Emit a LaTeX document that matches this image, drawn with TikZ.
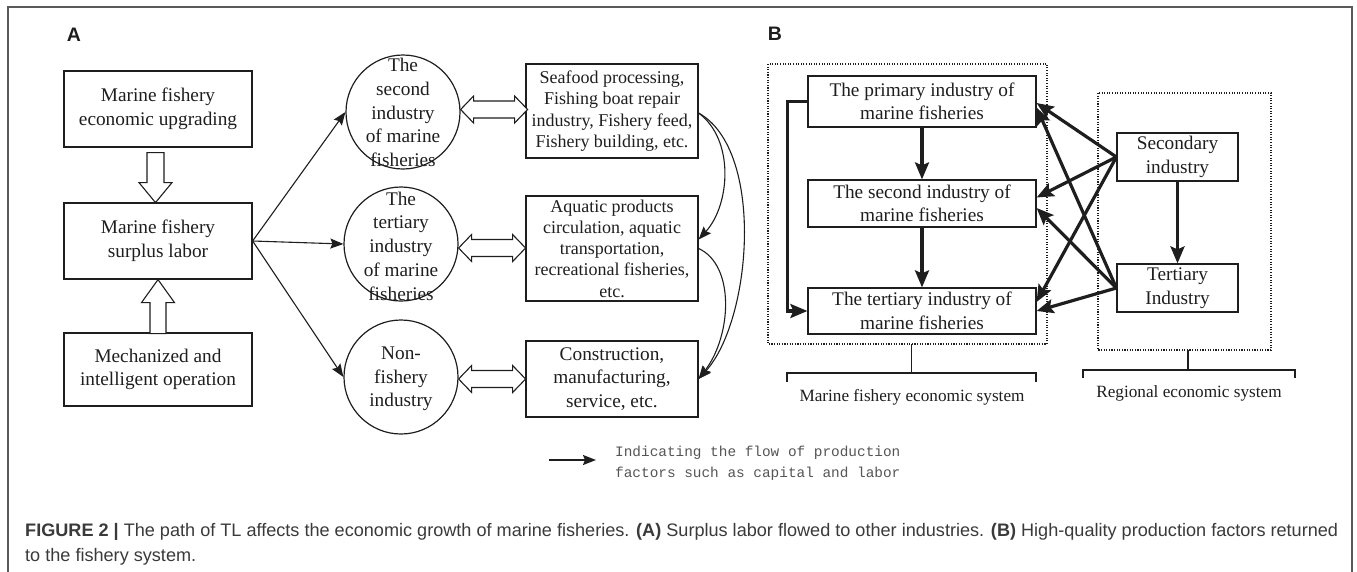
\documentclass[tikz,border=0pt]{standalone}
\usepackage{fontspec}
\setmainfont{Liberation Serif}
\setmonofont{Liberation Mono}
\newfontfamily\capfont{Liberation Sans}
\usetikzlibrary{arrows.meta,calc}
\definecolor{ink}{HTML}{1E1E1E}
\definecolor{framec}{HTML}{5A5A5A}
\definecolor{capc}{HTML}{3A3A3A}
\definecolor{legc}{HTML}{555555}
\begin{document}
\begin{tikzpicture}[x=1pt,y=-1pt,
  box/.style={draw=ink, line width=1.2pt, text=ink, align=center, inner sep=0pt,
    font=\fontsize{19.3}{23.5}\selectfont},
  sbox/.style={box, font=\fontsize{18}{21.3}\selectfont},
  circ/.style={circle, draw=ink, line width=1.2pt, minimum size=114pt, inner sep=0pt},
  ctext/.style={align=center, text=ink, inner sep=0pt, font=\fontsize{19.3}{23.7}\selectfont},
  thinarr/.style={draw=ink, line width=1.1pt, -{Stealth[length=13pt,width=10pt,inset=2pt]}},
  thickarr/.style={draw=ink, line width=3.2pt, -{Stealth[length=17pt,width=14pt,inset=3pt]}},
  hollow/.style={draw=ink, line width=1.1pt, fill=white, line join=miter},
  dotbox/.style={draw=ink, line width=1.1pt, dash pattern=on 1.1pt off 1.5pt},
  brack/.style={draw=ink, line width=1.3pt},
  panel/.style={font=\capfont\bfseries\fontsize{19.5}{20}\selectfont, text=ink, inner sep=0pt},
  blabel/.style={font=\fontsize{17.2}{20}\selectfont, text=ink, inner sep=0pt},
  captxt/.style={anchor=base west, inner sep=0pt, text=capc, font=\capfont\fontsize{18.1}{20}\selectfont}
]
\useasboundingbox (0,0) rectangle (1357,571);
% outer frame
\draw[framec, line width=1.3pt] (8,580) -- (8,7) -- (1352,7) -- (1352,580);

% panel labels
\node[panel] (labA) at (74,35) {A};
\node[panel] (labB) at (775,34) {B};

% ---------- Panel A ----------
\node[box, minimum width=188pt, minimum height=76pt] (a1) at (158,109) {Marine fishery\\economic upgrading};
\node[box, minimum width=188pt, minimum height=76pt] (a2) at (158,241) {Marine fishery\\surplus labor};
\node[box, minimum width=188pt, minimum height=73pt] (a3) at (158,369.5) {Mechanized and\\intelligent operation};

% hollow vertical arrows
\draw[hollow] ($(a1.south)+(-11,5)$) -- ++(17,0) -- ++(0,30) -- ++(8,0) -- ++(-16.5,20) -- ++(-16.5,-20) -- ++(8,0) -- cycle;
\draw[hollow] (a2.south) -- ++(16.5,23) -- ++(-8.5,0) -- ++(0,31) -- ++(-16,0) -- ++(0,-31) -- ++(-8.5,0) -- cycle;

% circles
\node[circ] (c1) at (403,112) {};
\node[ctext] (c1t) at (403,112.5) {The\\second\\industry\\of marine\\fisheries};
\node[circ] (c2) at (401,244) {};
\node[ctext] (c2t) at (401,246) {The\\tertiary\\industry\\of marine\\fisheries};
\node[circ] (c3) at (401,377) {};
\node[ctext] (c3t) at (401,379) {Non-\\fishery\\industry};

\draw[thinarr] (a2.east) -- (c1.west);
\draw[thinarr] (a2.east) -- (c2.west);
\draw[thinarr] (a2.east) -- (c3.west);

% right boxes of A
\node[sbox, minimum width=172pt, minimum height=94pt] (b1) at (612,111) {Seafood processing,\\Fishing boat repair\\industry, Fishery feed,\\Fishery building, etc.};
\node[sbox, minimum width=172pt, minimum height=105pt] (b2) at (612,248.5) {Aquatic products\\circulation, aquatic\\transportation,\\recreational fisheries,\\etc.};
\node[box, minimum width=172pt, minimum height=76pt] (b3) at (612,379) {Construction,\\manufacturing,\\service, etc.};

% hollow double arrows
\draw[hollow] (c1.east |- 0,109.5) -- ++(13,-13.5) -- ++(0,5) -- ++(41,0) -- ++(0,-5) -- ++(13,13.5) -- ++(-13,13.5) -- ++(0,-5) -- ++(-41,0) -- ++(0,5) -- cycle;
\draw[hollow] (c2.east |- 0,248) -- ++(13,-13.5) -- ++(0,5) -- ++(41,0) -- ++(0,-5) -- ++(13,13.5) -- ++(-13,13.5) -- ++(0,-5) -- ++(-41,0) -- ++(0,5) -- cycle;
\draw[hollow] (c3.east |- 0,379) -- ++(13,-13.5) -- ++(0,5) -- ++(41,0) -- ++(0,-5) -- ++(13,13.5) -- ++(-13,13.5) -- ++(0,-5) -- ++(-41,0) -- ++(0,5) -- cycle;

% curved arrows
\draw[thinarr] ($(b1.east)+(0,2)$) .. controls (735,140) and (730,205) .. ($(b2.east)+(0,-9)$);
\draw[thinarr] ($(b1.east)+(0,2)$) .. controls (765,150) and (752,320) .. (b3.east);
\draw[thinarr] (b2.east) .. controls (735,265) and (732,335) .. (b3.east);

% legend
\coordinate (lg1) at (549,460);
\coordinate (lg2) at (596,460);
\draw[draw=ink, line width=1.6pt, -{Stealth[length=13pt,width=10pt,inset=2pt]}] (lg1) -- (lg2);
\node[anchor=west, align=left, inner sep=0pt, text=legc, font=\ttfamily\fontsize{14.4}{21}\selectfont] (legt) at (615,463.5) {Indicating the flow of production\\factors such as capital and labor};

% ---------- Panel B ----------
\draw[dotbox] (768,64) rectangle (1047,344);
\coordinate (d1s) at (911.5,344);
\draw[dotbox] (1098,93) rectangle (1271,350);
\coordinate (d2s) at (1188,350);

\node[box, minimum width=228pt, minimum height=51pt] (p1) at (922,101.5) {The primary industry of\\marine fisheries};
\node[box, minimum width=228pt, minimum height=47pt] (p2) at (922,203.5) {The second industry of\\marine fisheries};
\node[box, minimum width=228pt, minimum height=46pt] (p3) at (922,311) {The tertiary industry of\\marine fisheries};
\node[box, minimum width=121pt, minimum height=48pt] (s1) at (1177.5,157) {Secondary\\industry};
\node[box, minimum width=121pt, minimum height=48pt] (s2) at (1177.5,288) {Tertiary\\Industry};

\draw[thickarr] (p1.south) -- (p2.north);
\draw[thickarr] (p2.south) -- (p3.north);
\draw[thickarr] (s1.south) -- (s2.north);
\draw[thickarr] (p1.west) -- ++(-20,0) |- (p3.west);

\draw[thickarr] (s1.west) -- ($(p1.east)+(0,1.5)$);
\draw[thickarr] (s1.west) -- ($(p2.east)+(0,-6)$);
\draw[thickarr] (s1.west) -- ($(p3.east)+(0,-9)$);
\draw[thickarr] (s2.west) -- ($(p1.east)+(0,6)$);
\draw[thickarr] (s2.west) -- ($(p2.east)+(0,4.5)$);
\draw[thickarr] (s2.west) -- (p3.east);

% brackets
\coordinate (br1) at (911.5,373);
\coordinate (br2) at (1189,370);
\draw[brack] (d1s) -- (br1);
\draw[brack] ($(br1)+(-124.5,9)$) -- ++(0,-9) -- ++(249,0) -- ++(0,9);
\draw[brack] (d2s) -- (br2 -| d2s);
\draw[brack] ($(br2)+(-106,8)$) -- ++(0,-8) -- ++(212,0) -- ++(0,8);
\node[blabel] (l1) at (912,397) {Marine fishery economic system};
\node[blabel] (l2) at (1189,393) {Regional economic system};

% caption
\node[captxt] (cap1) at (25,536)
  {\textbf{FIGURE 2 |} The path of TL affects the economic growth of marine fisheries. \textbf{(A)} Surplus labor flowed to other industries. \textbf{(B)} High-quality production factors returned};
\node[captxt] (cap2) at (25,561) {to the fishery system.};
\end{tikzpicture}
\end{document}
